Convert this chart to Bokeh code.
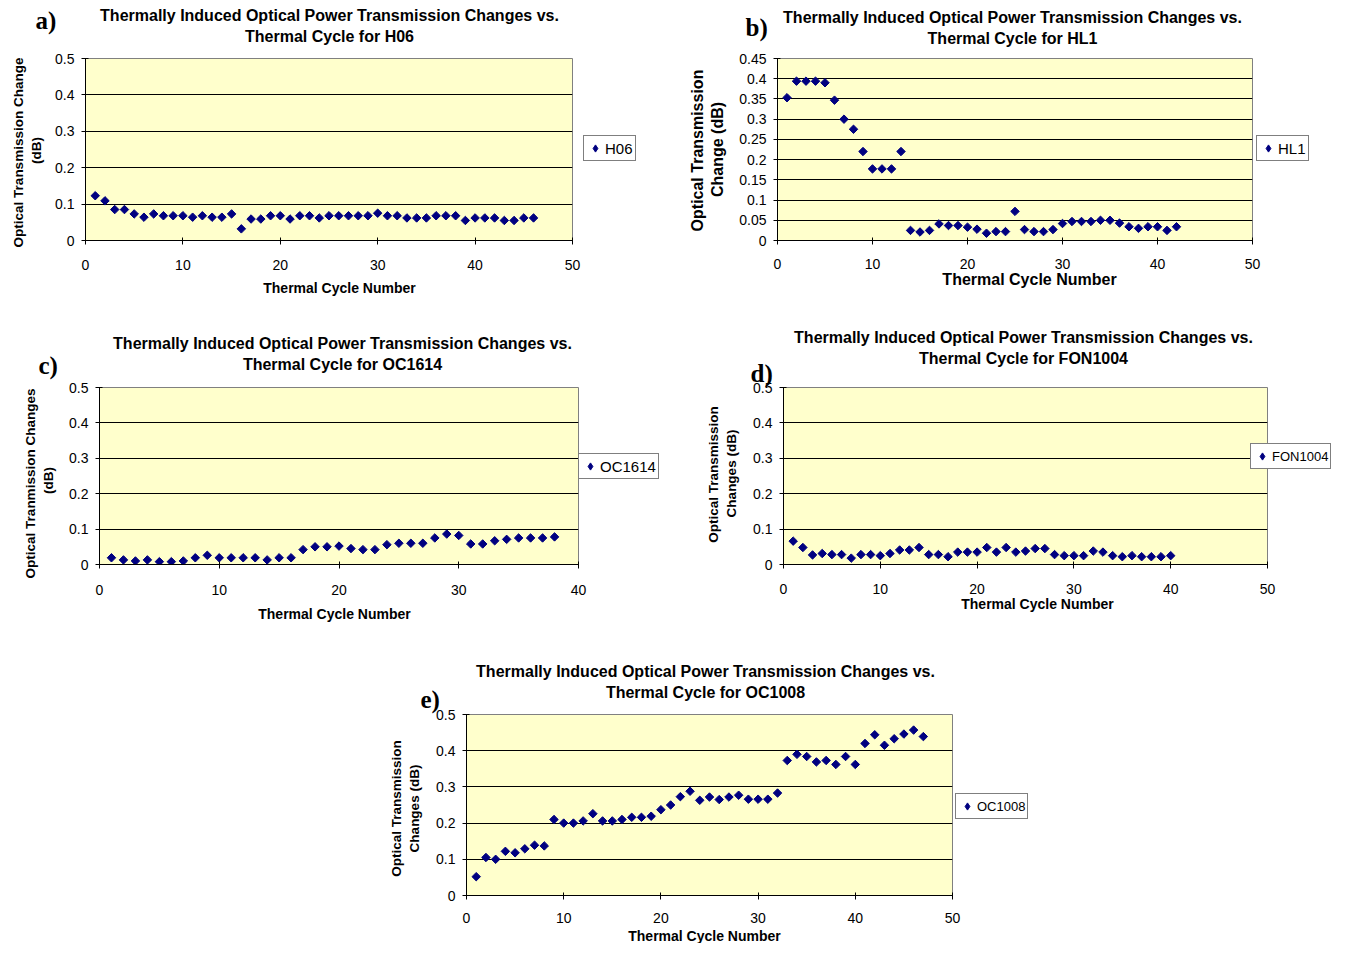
import math
from bokeh.plotting import figure
from bokeh.models import (Range1d, FixedTicker, CustomJSTickFormatter, Label, Legend,
                          LegendItem, GridBox)
from bokeh.layouts import column, row
from bokeh.embed import file_html
from bokeh.resources import INLINE

SANS = "Liberation Sans"
SERIF = "Liberation Serif"

# ---------------- data ----------------
h06 = [0.123, 0.109, 0.085, 0.085, 0.073, 0.064, 0.073, 0.068, 0.068, 0.068,
       0.064, 0.068, 0.064, 0.064, 0.073, 0.032, 0.059, 0.059, 0.068, 0.068,
       0.059, 0.068, 0.068, 0.062, 0.068, 0.068, 0.068, 0.068, 0.068, 0.075,
       0.068, 0.068, 0.062, 0.062, 0.062, 0.068, 0.068, 0.068, 0.055, 0.062,
       0.062, 0.062, 0.055, 0.055, 0.062, 0.062]
hl1 = [0.353, 0.394, 0.394, 0.394, 0.390, 0.347, 0.300, 0.275, 0.220, 0.177,
       0.177, 0.177, 0.220, 0.025, 0.021, 0.025, 0.041, 0.037, 0.037, 0.033,
       0.028, 0.018, 0.022, 0.022, 0.072, 0.027, 0.022, 0.022, 0.027, 0.042,
       0.047, 0.047, 0.047, 0.050, 0.050, 0.043, 0.034, 0.030, 0.034, 0.034,
       0.025, 0.034]
oc1614 = [0.019, 0.013, 0.010, 0.013, 0.008, 0.008, 0.010, 0.019, 0.026, 0.019,
          0.019, 0.019, 0.019, 0.013, 0.019, 0.019, 0.042, 0.050, 0.050, 0.052,
          0.045, 0.042, 0.042, 0.056, 0.060, 0.060, 0.060, 0.075, 0.086, 0.082,
          0.058, 0.058, 0.067, 0.071, 0.075, 0.075, 0.075, 0.078]
fon1004 = [0.066, 0.048, 0.027, 0.031, 0.028, 0.028, 0.018, 0.028, 0.028, 0.025,
           0.031, 0.041, 0.041, 0.048, 0.028, 0.028, 0.022, 0.035, 0.035, 0.035,
           0.048, 0.035, 0.048, 0.035, 0.038, 0.045, 0.045, 0.028, 0.025, 0.025,
           0.025, 0.038, 0.035, 0.025, 0.022, 0.025, 0.022, 0.022, 0.022, 0.025]
oc1008 = [0.052, 0.105, 0.100, 0.122, 0.118, 0.129, 0.139, 0.137, 0.210, 0.200,
          0.200, 0.206, 0.226, 0.206, 0.206, 0.210, 0.216, 0.216, 0.219, 0.237,
          0.250, 0.273, 0.288, 0.263, 0.272, 0.265, 0.272, 0.277, 0.266, 0.266,
          0.266, 0.283, 0.373, 0.390, 0.384, 0.369, 0.373, 0.362, 0.384, 0.362,
          0.420, 0.444, 0.415, 0.433, 0.446, 0.457, 0.439]

x_ticks_50 = [0, 10, 20, 30, 40, 50]
x_ticks_40 = [0, 10, 20, 30, 40]
y_ticks_05 = [0, 0.1, 0.2, 0.3, 0.4, 0.5]
y_ticks_045 = [0, 0.05, 0.1, 0.15, 0.2, 0.25, 0.3, 0.35, 0.4, 0.45]

TITLE1 = "Thermally Induced Optical Power Transmission Changes vs."
XTITLE = "Thermal Cycle Number"

BG = "#FFFFCC"
NAVY = "#000080"
W, H = 1332, 943


def panel(vals, w, h, l, r, t, b, xmax, ymax, xticks, yticks, xstand):
    xs = list(range(1, len(vals) + 1))
    p = figure(width=w, height=h, title=None,
               x_range=Range1d(0, xmax), y_range=Range1d(0, ymax),
               min_border_left=l, min_border_right=r,
               min_border_top=t, min_border_bottom=b,
               output_backend="svg", toolbar_location=None,
               background_fill_color=BG, border_fill_alpha=0.0,
               outline_line_color="#808080", outline_line_width=1)
    xt = FixedTicker(ticks=xticks)
    yt = FixedTicker(ticks=yticks)
    fmt = "return String(Math.round(tick*1000)/1000);"
    p.xaxis.ticker = xt
    p.yaxis.ticker = yt
    p.xaxis.formatter = CustomJSTickFormatter(code=fmt)
    p.yaxis.formatter = CustomJSTickFormatter(code=fmt)
    for ax in (p.xaxis, p.yaxis):
        ax.major_label_text_font = SANS
        ax.major_label_text_font_size = "14px"
        ax.major_label_text_color = "black"
        ax.axis_line_color = "black"
        ax.major_tick_line_color = "black"
        ax.major_tick_in = 3
        ax.major_tick_out = 4
        ax.minor_tick_line_color = None
    p.xaxis.major_label_standoff = xstand
    p.yaxis.major_label_standoff = 7
    p.xgrid.visible = False
    p.ygrid.ticker = yt
    p.ygrid.grid_line_color = "black"
    p.ygrid.grid_line_width = 1
    p.scatter(xs, vals, marker="square", size=6, angle=math.pi / 4,
              fill_color=NAVY, line_color=NAVY)
    return p


# panel figures: frames placed where the reference plot areas are
fa = panel(h06, 672, 310, 85, 100, 58, 68, 50, 0.5, x_ticks_50, y_ticks_05, 15)
fb = panel(hl1, 660, 310, 105, 80, 58, 70, 50, 0.45, x_ticks_50, y_ticks_045, 14)
fc = panel(oc1614, 672, 310, 99, 94, 77, 47, 40, 0.5, x_ticks_40, y_ticks_05, 16)
fd = panel(fon1004, 660, 310, 111, 65, 68, 56, 50, 0.5, x_ticks_50, y_ticks_05, 15)
fe = panel(oc1008, 1332, 323, 466, 380, 94, 48, 50, 0.5, x_ticks_50, y_ticks_05, 13)

# transparent text layer over the whole page (pixel-like coordinates, y down)
ft = figure(width=W, height=H, x_range=Range1d(0, W), y_range=Range1d(H, 0),
            x_axis_type=None, y_axis_type=None, title=None,
            min_border_left=0, min_border_right=0, min_border_top=0, min_border_bottom=0,
            output_backend="svg", toolbar_location=None,
            background_fill_alpha=0.0, border_fill_alpha=0.0, outline_line_color=None)
ft.xgrid.visible = False
ft.ygrid.visible = False


def lab(x, y, text, size, bold=True, font=SANS, align="center", angle=0.0):
    ft.add_layout(Label(x=x, y=y, text=text, text_font=font, text_font_size=size,
                        text_font_style="bold" if bold else "normal",
                        text_align=align, text_baseline="middle", angle=angle,
                        text_color="black"))


def legend(name, left, bottom, fs):
    # legend swatch renderer: one point kept outside the visible range
    swatch = ft.scatter(x=[-100], y=[-100], marker="diamond", size=8,
                        fill_color=NAVY, line_color=NAVY)
    ft.add_layout(Legend(items=[LegendItem(label=name, renderers=[swatch])],
                         location=(left, H - bottom), margin=0, padding=2, spacing=0,
                         glyph_width=18, glyph_height=20, label_height=16,
                         label_standoff=1, border_line_color="black",
                         border_line_width=1, background_fill_color="white",
                         background_fill_alpha=1.0, label_text_font=SANS,
                         label_text_font_size=fs, label_text_color="black"))


V = math.pi / 2
panels_text = [
    ("H06", 329, 15, 36, "a)", 35, 20,
     [(18, 152, "Optical Transmission Change"), (36, 150, "(dB)")], "13.5px",
     339, 287, "14px", 583, 161, "15px"),
    ("HL1", 1012, 17, 38, "b)", 745, 27,
     [(697, 150, "Optical Transmission"), (717, 149, "Change (dB)")], "16px",
     1029, 279, "16px", 1256, 161, "15px"),
    ("OC1614", 342, 343, 364, "c)", 38, 365,
     [(30, 483, "Optical Tranmission Changes"), (48, 480, "(dB)")], "13.5px",
     334, 613, "14px", 578, 479, "15px"),
    ("FON1004", 1023, 337, 358, "d)", 750, 373,
     [(713, 474, "Optical Transmission"), (731, 473, "Changes (dB)")], "13.5px",
     1037, 603, "14px", 1250, 469, "13px"),
    ("OC1008", 705, 671, 692, "e)", 420, 699,
     [(396, 808, "Optical Transmission"), (414, 808, "Changes (dB)")], "13.5px",
     704, 935, "14px", 955, 819, "13px"),
]

for (name, tx, ty1, ty2, let, lx, ly, ytl, yfs, xx, xy, xfs, gl, gb, gfs) in panels_text:
    lab(tx, ty1, TITLE1, "16px")
    lab(tx, ty2, "Thermal Cycle for " + name, "16px")
    lab(lx, ly, let, "25px", font=SERIF, align="left")
    for (yx, yy, yt) in ytl:
        lab(yx, yy, yt, yfs, angle=V)
    lab(xx, xy, XTITLE, xfs)
    legend(name, gl, gb, gfs)

charts = column(row(fa, fb), row(fc, fd), fe)
grid = GridBox(children=[(charts, 0, 0), (ft, 0, 0)], spacing=0)
open("out.html", "w").write(file_html(grid, INLINE))
